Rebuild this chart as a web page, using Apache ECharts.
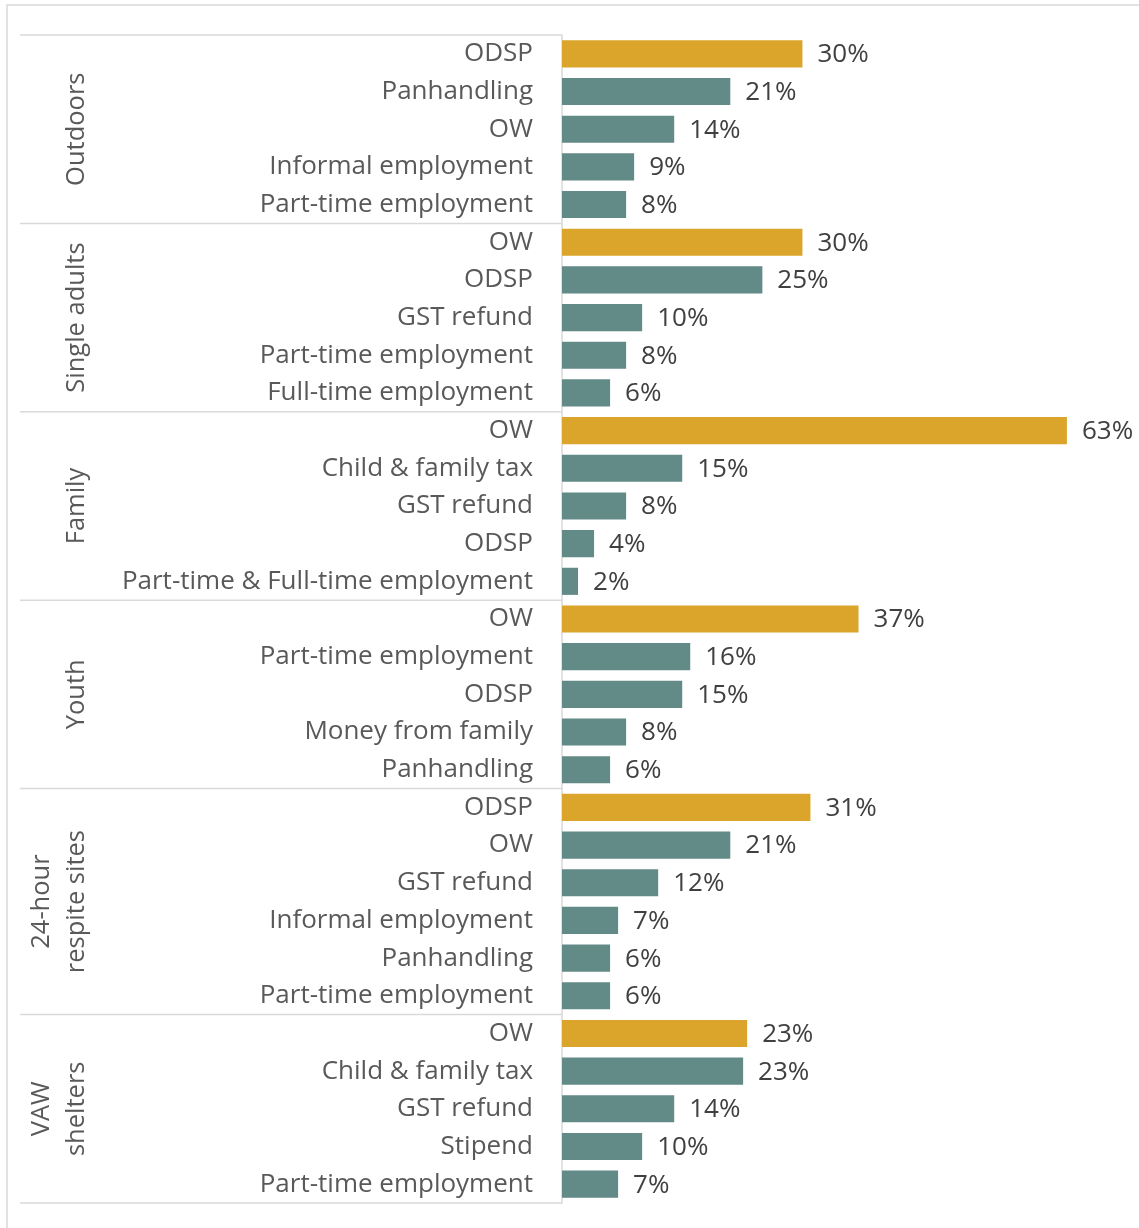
<!DOCTYPE html>
<html>
<head>
<meta charset="utf-8">
<script src="https://cdn.jsdelivr.net/npm/echarts@6/dist/echarts.min.js"></script>
<style>
  html, body { margin: 0; padding: 0; background: #fff; }
  #chart { width: 1139px; height: 1228px; }
</style>
</head>
<body>
<div id="chart"></div>
<script>
// groups, in order from top to bottom
var groupNames = ['Outdoors', 'Single adults', 'Family', 'Youth', '24-hour\nrespite sites', 'VAW\nshelters'];

var outdoorsLabels = ['ODSP', 'Panhandling', 'OW', 'Informal employment', 'Part-time employment'];
var outdoorsValues = [30, 21, 14, 9, 8];

var singleLabels = ['OW', 'ODSP', 'GST refund', 'Part-time employment', 'Full-time employment'];
var singleValues = [30, 25, 10, 8, 6];

var familyLabels = ['OW', 'Child & family tax', 'GST refund', 'ODSP', 'Part-time & Full-time employment'];
var familyValues = [63, 15, 8, 4, 2];

var youthLabels = ['OW', 'Part-time employment', 'ODSP', 'Money from family', 'Panhandling'];
var youthValues = [37, 16, 15, 8, 6];

var respiteLabels = ['ODSP', 'OW', 'GST refund', 'Informal employment', 'Panhandling', 'Part-time employment'];
var respiteValues = [31, 21, 12, 7, 6, 6];

var vawLabels = ['OW', 'Child & family tax', 'GST refund', 'Stipend', 'Part-time employment'];
var vawValues = [23.1, 22.6, 14, 10, 7];

var groupLabels = [outdoorsLabels, singleLabels, familyLabels, youthLabels, respiteLabels, vawLabels];
var groupValues = [outdoorsValues, singleValues, familyValues, youthValues, respiteValues, vawValues];

var GOLD = '#DAA52A';
var TEAL = '#628A87';
var GRAY_LINE = '#D9D9D9';
var FONT = 'Open Sans';

// flatten into rows, keys are unique so repeated names (OW, ODSP) stay separate
var keys = [], names = {}, seriesData = [], groupRanges = [];
groupLabels.forEach(function (labels, g) {
    var start = keys.length;
    labels.forEach(function (name, i) {
        var key = 'g' + g + '_' + i;
        keys.push(key);
        names[key] = name;
        seriesData.push({
            value: groupValues[g][i],
            itemStyle: { color: i === 0 ? GOLD : TEAL }
        });
    });
    groupRanges.push([start, keys.length - 1]);
});

var myChart = echarts.init(document.getElementById('chart'));

var option = {
    animation: false,
    grid: { left: 562, right: 16, top: 35, bottom: 25, containLabel: false },
    xAxis: {
        type: 'value',
        min: 0,
        max: 70,
        show: false
    },
    yAxis: {
        type: 'category',
        data: keys,
        inverse: true,
        axisTick: { show: false },
        axisLine: { show: true, lineStyle: { color: GRAY_LINE, width: 1.5 } },
        axisLabel: {
            margin: 29,
            fontFamily: FONT,
            fontSize: 26,
            color: '#595959',
            formatter: function (v) { return names[v]; }
        }
    },
    series: [{
        type: 'bar',
        data: seriesData,
        barCategoryGap: '28%',
        label: {
            show: true,
            position: 'right',
            distance: 15,
            offset: [0, 1],
            fontFamily: FONT,
            fontSize: 26,
            color: '#404040',
            formatter: function (p) { return Math.round(p.value) + '%'; }
        }
    }]
};
myChart.setOption(option);

// group separators and rotated group names, placed through the axis scale
function drawGroups() {
    var graphics = [];
    var rowH = myChart.convertToPixel({ yAxisIndex: 0 }, keys[1]) - myChart.convertToPixel({ yAxisIndex: 0 }, keys[0]);
    var axisX = myChart.convertToPixel({ xAxisIndex: 0 }, 0);
    graphics.push({
        type: 'rect',
        shape: { x: 7, y: 5, width: 1150, height: 1250 },
        style: { fill: null, stroke: GRAY_LINE, lineWidth: 1.5 },
        silent: true
    });
    groupRanges.forEach(function (r, g) {
        var yTop = myChart.convertToPixel({ yAxisIndex: 0 }, keys[r[0]]) - rowH / 2;
        var yBot = myChart.convertToPixel({ yAxisIndex: 0 }, keys[r[1]]) + rowH / 2;
        if (g === 0) {
            graphics.push({
                type: 'line',
                shape: { x1: 20, y1: yTop, x2: axisX, y2: yTop },
                style: { stroke: GRAY_LINE, lineWidth: 1.5 },
                silent: true
            });
        }
        graphics.push({
            type: 'line',
            shape: { x1: 20, y1: yBot, x2: axisX, y2: yBot },
            style: { stroke: GRAY_LINE, lineWidth: 1.5 },
            silent: true
        });
        var twoLines = groupNames[g].indexOf('\n') >= 0;
        graphics.push({
            type: 'text',
            x: twoLines ? 59 : 77,
            y: (yTop + yBot) / 2,
            rotation: Math.PI / 2,
            style: {
                text: groupNames[g],
                fontFamily: FONT,
                fontSize: 25.5,
                fill: '#595959',
                align: 'center',
                verticalAlign: 'middle',
                lineHeight: 35
            },
            silent: true
        });
    });
    myChart.setOption({ graphic: graphics });
}
drawGroups();
</script>
</body>
</html>
